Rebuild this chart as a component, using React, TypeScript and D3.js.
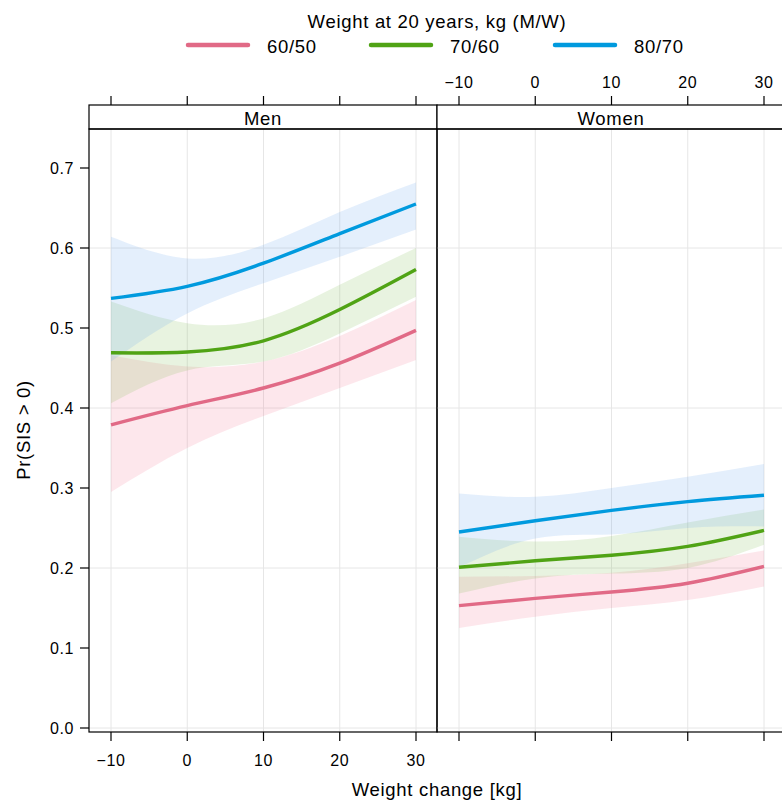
import React from "react";
import * as d3 from "d3";

const xValues = [-10, 0, 10, 20, 30];
const panels = ["Men", "Women"];
const groups = ["60/50", "70/60", "80/70"];
const lineColors = ["#E16A86", "#50A315", "#009ADE"];
const bandColors = ["#F27A95", "#7DBE55", "#6AA8EC"];

// Men
const menFit = [
  [0.379, 0.403, 0.425, 0.456, 0.497],
  [0.469, 0.470, 0.484, 0.523, 0.573],
  [0.537, 0.552, 0.581, 0.618, 0.655],
];
const menLower = [
  [0.295, 0.350, 0.390, 0.425, 0.460],
  [0.406, 0.447, 0.458, 0.493, 0.539],
  [0.458, 0.518, 0.556, 0.589, 0.623],
];
const menUpper = [
  [0.466, 0.452, 0.458, 0.490, 0.535],
  [0.533, 0.506, 0.512, 0.554, 0.600],
  [0.614, 0.587, 0.604, 0.645, 0.682],
];
// Women
const womenFit = [
  [0.153, 0.162, 0.170, 0.181, 0.202],
  [0.201, 0.209, 0.216, 0.227, 0.247],
  [0.245, 0.259, 0.272, 0.283, 0.291],
];
const womenLower = [
  [0.125, 0.139, 0.150, 0.160, 0.177],
  [0.168, 0.187, 0.193, 0.200, 0.229],
  [0.201, 0.237, 0.242, 0.250, 0.252],
];
const womenUpper = [
  [0.189, 0.190, 0.194, 0.206, 0.222],
  [0.239, 0.233, 0.240, 0.257, 0.273],
  [0.293, 0.289, 0.300, 0.314, 0.330],
];

const xTicks = [-10, 0, 10, 20, 30];
const yTicks = [0, 0.1, 0.2, 0.3, 0.4, 0.5, 0.6, 0.7];
const yGrid = [0, 0.2, 0.4, 0.6];

const fitData = [menFit, womenFit];
const lowerData = [menLower, womenLower];
const upperData = [menUpper, womenUpper];

const FONT = "Liberation Sans, Arial, Helvetica, sans-serif";
const BIG = 18.5;
const LS = 0.7;
const TICK = 16;
const TLS = 0.6;

export default function App() {
  const W = 782, H = 801;
  const panelW = 348;
  const panelLeft = [89, 437];
  const stripTop = 105, stripBot = 129, panelBot = 732;
  const y = d3.scaleLinear().domain([0, 0.7]).range([728, 168]);
  const xScales = panelLeft.map((l) =>
    d3.scaleLinear().domain([-10, 30]).range([l + 22, l + 22 + 305])
  );
  const fmt = (v: number) => (v < 0 ? "\u2212" + Math.abs(v) : String(v));
  const curve = d3.curveNatural;

  return (
    <svg width={W} height={H} style={{ position: "absolute", left: 0, top: 0, background: "#fff" }}
      fontFamily={FONT}>
      <rect x={0} y={0} width={W} height={H} fill="#fff" />
      {/* legend */}
      <text x={437} y={21} textAnchor="middle" dominantBaseline="central" fontSize={BIG} letterSpacing={LS}>
        Weight at 20 years, kg (M/W)
      </text>
      {groups.map((g, i) => {
        const lx = [188, 371, 555][i];
        return (
          <g key={g}>
            <line x1={lx} x2={lx + 60} y1={45} y2={45} stroke={lineColors[i]} strokeWidth={4.5} strokeLinecap="round" />
            <text x={lx + 79} y={46} dominantBaseline="central" fontSize={BIG} letterSpacing={LS}>{g}</text>
          </g>
        );
      })}
      {panels.map((p, pi) => {
        const x = xScales[pi];
        const l = panelLeft[pi];
        const line = d3.line<number>()
          .x((_, k) => x(xValues[k]))
          .y((d) => y(d))
          .curve(curve);
        return (
          <g key={p}>
            {/* grid */}
            {xTicks.map((t) => (
              <line key={"gx" + t} x1={x(t)} x2={x(t)} y1={stripBot} y2={panelBot} stroke="#e6e6e6" strokeWidth={1} />
            ))}
            {yGrid.map((t) => (
              <line key={"gy" + t} x1={l} x2={l + panelW} y1={y(t)} y2={y(t)} stroke="#e6e6e6" strokeWidth={1} />
            ))}
            {/* bands */}
            {groups.map((g, gi) => {
              const lo = lowerData[pi][gi];
              const up = upperData[pi][gi];
              const a = d3.area<number>()
                .x((_, k) => x(xValues[k]))
                .y0((d) => y(d))
                .y1((_, k) => y(up[k]))
                .curve(curve);
              return <path key={"b" + g} d={a(lo) || ""} fill={bandColors[gi]} fillOpacity={0.18} stroke="none" />;
            })}
            {/* lines */}
            {groups.map((g, gi) => (
              <path key={"l" + g} d={line(fitData[pi][gi]) || ""} fill="none" stroke={lineColors[gi]} strokeWidth={3.4} />
            ))}
            {/* strip */}
            <rect x={l} y={stripTop} width={panelW} height={stripBot - stripTop} fill="#fff" stroke="#000" strokeWidth={1.2} />
            <text x={l + panelW / 2} y={(stripTop + stripBot) / 2 + 1} textAnchor="middle" dominantBaseline="central" fontSize={BIG} letterSpacing={LS}>{p}</text>
            {/* panel border */}
            <rect x={l} y={stripBot} width={panelW} height={panelBot - stripBot} fill="none" stroke="#000" strokeWidth={1.2} />
            {/* top ticks */}
            {xTicks.map((t) => (
              <line key={"tt" + t} x1={x(t)} x2={x(t)} y1={stripTop} y2={stripTop - 9} stroke="#000" strokeWidth={1.2} />
            ))}
            {pi === 1 && xTicks.map((t) => (
              <text key={"ttl" + t} x={x(t)} y={82} textAnchor="middle" dominantBaseline="central" fontSize={TICK} letterSpacing={TLS}>{fmt(t)}</text>
            ))}
            {/* bottom ticks */}
            {xTicks.map((t) => (
              <line key={"bt" + t} x1={x(t)} x2={x(t)} y1={panelBot} y2={panelBot + 9} stroke="#000" strokeWidth={1.2} />
            ))}
            {pi === 0 && xTicks.map((t) => (
              <text key={"btl" + t} x={x(t)} y={760} textAnchor="middle" dominantBaseline="central" fontSize={TICK} letterSpacing={TLS}>{fmt(t)}</text>
            ))}
          </g>
        );
      })}
      {/* y axis */}
      {yTicks.map((t) => (
        <g key={"yt" + t}>
          <line x1={80} x2={89} y1={y(t)} y2={y(t)} stroke="#000" strokeWidth={1.2} />
          <text x={74} y={y(t)} textAnchor="end" dominantBaseline="central" fontSize={TICK} letterSpacing={TLS}>{t.toFixed(1)}</text>
        </g>
      ))}
      <text transform={`translate(23,430) rotate(-90)`} textAnchor="middle" dominantBaseline="central" fontSize={BIG} letterSpacing={LS}>
        Pr(SIS &gt; 0)
      </text>
      <text x={437} y={789} textAnchor="middle" dominantBaseline="central" fontSize={BIG} letterSpacing={LS}>Weight change [kg]</text>
    </svg>
  );
}
